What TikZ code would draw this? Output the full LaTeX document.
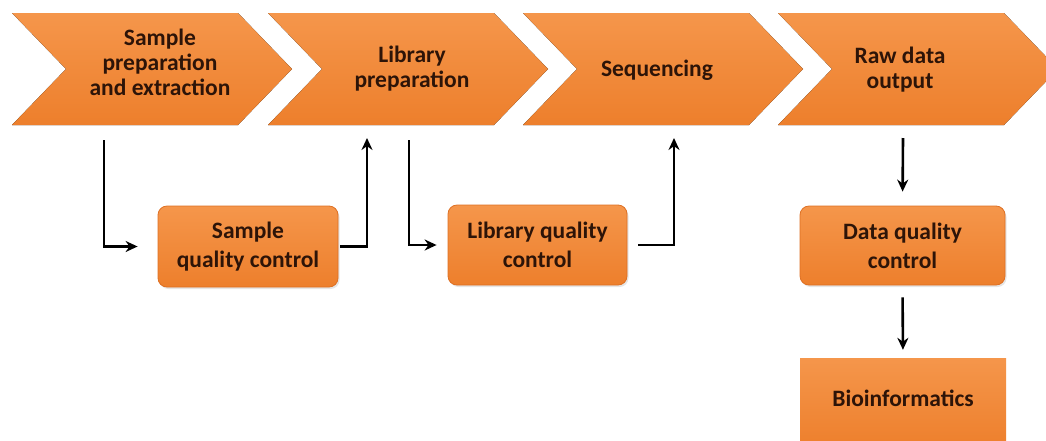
\documentclass[tikz,border=0pt]{standalone}
\usepackage{fontspec}
\setmainfont{Carlito}
\usetikzlibrary{arrows.meta,shadows}
\definecolor{orlight}{RGB}{245,150,75}
\definecolor{ordark}{RGB}{237,127,44}
\definecolor{oredge}{RGB}{222,112,35}
\definecolor{txt}{RGB}{45,20,8}
\tikzset{
  chev/.style={top color=orlight, bottom color=ordark},
  chevtext/.style={text=txt, font=\bfseries\fontsize{23.5}{25}\selectfont, align=center, inner sep=0pt},
  qcbox/.style={rectangle, rounded corners=9pt, top color=orlight, bottom color=ordark, draw=oredge, line width=0.8pt,
    text=txt, font=\bfseries\fontsize{23.5}{29}\selectfont, align=center, inner sep=0pt,
    drop shadow={opacity=0.2, shadow xshift=1.5pt, shadow yshift=-2pt}},
  biobox/.style={rectangle, top color=orlight, bottom color=ordark},
  biotext/.style={text=txt, font=\bfseries\fontsize{23.5}{29}\selectfont, inner sep=0pt},
  arr/.style={draw=black, line width=2.6pt, -{Stealth[length=12pt,width=11pt]}}
}
\begin{document}
\begin{tikzpicture}[x=1pt,y=-1pt]
\useasboundingbox (0,0) rectangle (1046,440);
\clip (0,0) rectangle (1046,440);
\fill[white] (0,0) rectangle (1046,440);
% chevrons
\foreach \L in {12,268,523,778}{
  \fill[chev] (\L,13) -- (\L+226,13) -- (\L+280,69) -- (\L+226,125) -- (\L,125) -- (\L+54,69) -- cycle;
}
\node[chevtext] (ch1) at (160,62) {Sample\\preparation\\and extraction};
\node[chevtext] (ch2) at (412,69) {Library\\preparation};
\node[chevtext] (ch3) at (657,70) {Sequencing};
\node[chevtext] (ch4) at (900,70) {Raw data\\output};
% boxes
\node[qcbox, minimum width=180pt, minimum height=81pt] (sqc) at (248,246.5) {Sample\\quality control};
\node[qcbox, minimum width=179pt, minimum height=80pt] (lqc) at (537.5,245) {Library quality\\control};
\node[qcbox, minimum width=205pt, minimum height=79pt] (dqc) at (902.5,245.5) {Data quality\\control};
\node[biobox, minimum width=206pt, minimum height=90pt] (bio) at (903,403) {};
\node[biotext] (biot) at (903,398) {Bioinformatics};
% connector ends
\coordinate (a1) at (104,140);
\coordinate (b1) at (367,138);
\coordinate (a2) at (409,140);
\coordinate (b2) at (674,138);
\coordinate (a3) at (903,138);
% connectors
\draw[arr, shorten >=20pt] (a1) |- (sqc.west);
\draw[arr, shorten <=2pt] (sqc.east) -| (b1);
\draw[arr, shorten >=11pt] (a2) |- (lqc.west);
\draw[arr, shorten <=11pt] (lqc.east) -| (b2);
\draw[arr, shorten >=14pt] (a3) -- (dqc.north);
\draw[arr, shorten <=12pt, shorten >=8pt] (dqc.south) -- (bio.north);
\end{tikzpicture}
\end{document}
